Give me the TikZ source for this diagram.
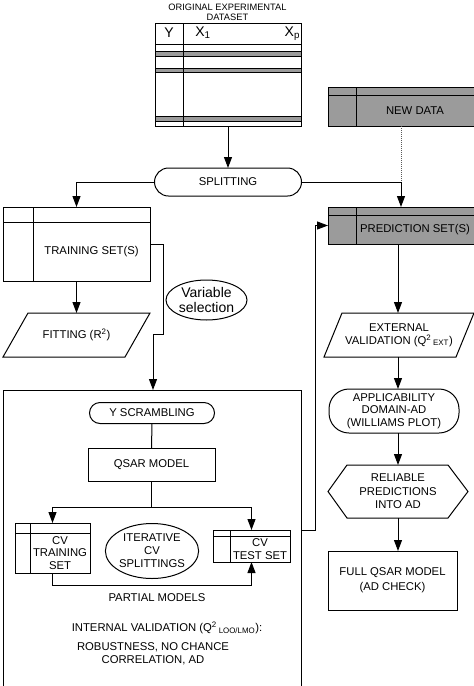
\documentclass[tikz,border=0pt]{standalone}
\usepackage{fontspec}
\setmainfont{Liberation Sans}
\usetikzlibrary{arrows.meta,shapes.geometric}
\definecolor{boxgray}{RGB}{155,155,155}
\begin{document}
\begin{tikzpicture}[x=1pt,y=-1pt,
  every node/.style={inner sep=0pt, outer sep=0pt},
  ln/.style={line width=1pt},
  arr/.style={ln, -{Triangle[length=11pt,width=8pt]}},
  txt/.style={font=\fontsize{11.3}{12.8}\selectfont, align=center},
  rbox/.style={draw, ln, rectangle},
  pill/.style={draw, ln, rectangle, rounded corners=#1},
  oval/.style={draw, ln, ellipse},
  gbox/.style={rbox, fill=boxgray}
]
\useasboundingbox (0,0) rectangle (474,686);

% ---------- original dataset table ----------
\node[txt, font=\fontsize{9.3}{9.5}\selectfont] (title) at (227.5,12.5) {ORIGINAL EXPERIMENTAL\\DATASET};
\node[rbox, minimum width=146pt, minimum height=103pt] (ods) at (228,74.5) {};
\filldraw[ln, fill=boxgray] (155,51) rectangle (301,56);
\filldraw[ln, fill=boxgray] (155,68) rectangle (301,72);
\filldraw[ln, fill=boxgray] (155,116) rectangle (301,121);
\draw[ln] (155,44) -- (301,44);
\draw[ln] (183,23) -- (183,126);
\node[font=\fontsize{14}{15}\selectfont] (ylab) at (169,33) {Y};
\node[font=\fontsize{14}{15}\selectfont] (x1lab) at (203,33) {X\textsubscript{1}};
\node[font=\fontsize{14}{15}\selectfont, anchor=east] (xplab) at (300,34) {X\textsubscript{p}};

% ---------- new data ----------
\node[gbox, minimum width=146pt, minimum height=39pt] (nd) at (401,106.5) {};
\draw[ln] (328,95) -- (474,95);
\draw[ln] (356,87) -- (356,126);
\node[txt] (ndT) at (415,110.5) {NEW DATA};

% ---------- splitting ----------
\node[pill=14pt, txt, minimum width=147pt, minimum height=28pt] (sp) at (228,182) {SPLITTING};

% ---------- training set ----------
\node[rbox, minimum width=147pt, minimum height=74pt] (ts) at (76.5,244) {};
\draw[ln] (3,222) -- (150,222);
\draw[ln] (33,207) -- (33,281);
\node[txt] (tsT) at (91.5,251.5) {TRAINING SET(S)};

% ---------- prediction set ----------
\node[gbox, minimum width=146pt, minimum height=37pt] (ps) at (401,225.5) {};
\draw[ln] (328,215) -- (474,215);
\draw[ln] (356,207) -- (356,244);
\node[txt] (psT) at (415,229.5) {PREDICTION SET(S)};

% ---------- fitting ----------
\node[txt, minimum width=147pt, minimum height=44pt] (fit) at (76.5,335) {FITTING (R\textsuperscript{2})};
\draw[ln] (fit.south west) -- ([xshift=25pt]fit.north west) -- (fit.north east) -- ([xshift=-25pt]fit.south east) -- cycle;

% ---------- variable selection ----------
\node[oval, align=center, font=\fontsize{14}{15}\selectfont, minimum width=81pt, minimum height=40pt] (vs) at (206.5,300) {Variable\\selection};

% ---------- big box ----------
\node[rbox, minimum width=298pt, minimum height=296pt] (bigbox) at (152,538) {};
\node[pill=10.5pt, txt, minimum width=125pt, minimum height=21pt] (ysc) at (152,413) {Y SCRAMBLING};
\node[rbox, txt, minimum width=127pt, minimum height=33pt] (qsar) at (151.5,464.5) {QSAR MODEL};

\node[rbox, minimum width=75pt, minimum height=50pt] (cvtr) at (52.5,548) {};
\draw[ln] (15,533) -- (90,533);
\draw[ln] (30,523) -- (30,573);
\node[txt, font=\fontsize{11.3}{12.5}\selectfont] (cvtrT) at (60,553) {CV\\TRAINING\\SET};

\node[rbox, minimum width=77pt, minimum height=32pt] (cvts) at (251.5,546) {};
\draw[ln] (213,536) -- (290,536);
\draw[ln] (230,530) -- (230,562);
\node[txt, font=\fontsize{11.3}{12.5}\selectfont] (cvtsT) at (260,549) {CV\\TEST SET};

\node[oval, txt, font=\fontsize{11.3}{13}\selectfont, minimum width=92pt, minimum height=55pt] (itr) at (152,551) {ITERATIVE\\CV\\SPLITTINGS};

\node[txt] (pm) at (157,598) {PARTIAL MODELS};
\node[txt] (iv) at (167,628) {INTERNAL VALIDATION (Q\textsuperscript{2}\,\textsubscript{LOO/LMO}):};
\node[txt] (rob) at (153,653.5) {ROBUSTNESS, NO CHANCE\\CORRELATION, AD};

% ---------- right column ----------
\coordinate (cx) at (398,0);
\node[txt, minimum width=150pt, minimum height=44pt] (ev) at (399,335) {EXTERNAL\\VALIDATION (Q\textsuperscript{2}\,\textsubscript{EXT})};
\draw[ln] (ev.south west) -- ([xshift=18pt]ev.north west) -- (ev.north east) -- ([xshift=-18pt]ev.south east) -- cycle;

\node[pill=20pt, txt, font=\fontsize{11.3}{12.5}\selectfont, minimum width=130pt, minimum height=44pt] (ad) at (394,411) {APPLICABILITY\\DOMAIN-AD\\(WILLIAMS PLOT)};

\node[txt, font=\fontsize{11.3}{13.5}\selectfont, minimum width=140pt, minimum height=53pt] (hex) at (398,491.5) {RELIABLE\\PREDICTIONS\\INTO AD};
\draw[ln] (hex.west) -- ([xshift=19pt]hex.north west) -- ([xshift=-20pt]hex.north east) -- (hex.east) -- ([xshift=-20pt]hex.south east) -- ([xshift=19pt]hex.south west) -- cycle;

\node[rbox, txt, font=\fontsize{11.3}{15}\selectfont, minimum width=129pt, minimum height=59pt] (fq) at (392.5,580.5) {FULL QSAR MODEL\\(AD CHECK)};

% ---------- connectors ----------
\draw[arr] (ods.south) -- (sp.north);
\draw[arr] (sp.west) -| (ts.north);
\draw[arr] (sp.east) -| (ps.north);
\draw[ln, gray!70!black, dash pattern=on 1pt off 1pt] (nd.south) -- (nd.south |- sp.east);
\draw[arr] (ts.south) -- (fit.north);
\coordinate (vsx) at (153,0);
\draw[arr] (ts.east) -- ++(13,0) -- ++(0,90) -- ++(-10,0) -- (bigbox.north -| vsx);
\draw[ln] (ysc.south) -- (qsar.north);
\coordinate (jn) at (151.5,507);
\draw[ln] (qsar.south) -- (jn);
\draw[arr] (jn) -| (cvtr.north);
\draw[arr] (jn) -| (cvts.north);
\draw[arr] (cvtr.south) -- ++(0,12) -| (cvts.south);
\draw[arr] (bigbox.east |- cvts.north) -- ++(14,0) |- (ps.west);
\draw[arr] (ps.south -| cx) -- (ev.north -| cx);
\draw[arr] (ev.south -| cx) -- (ad.north -| cx);
\draw[arr] (ad.south -| cx) -- (hex.north -| cx);
\draw[arr] (hex.south -| cx) -- (fq.north -| cx);
\end{tikzpicture}
\end{document}
